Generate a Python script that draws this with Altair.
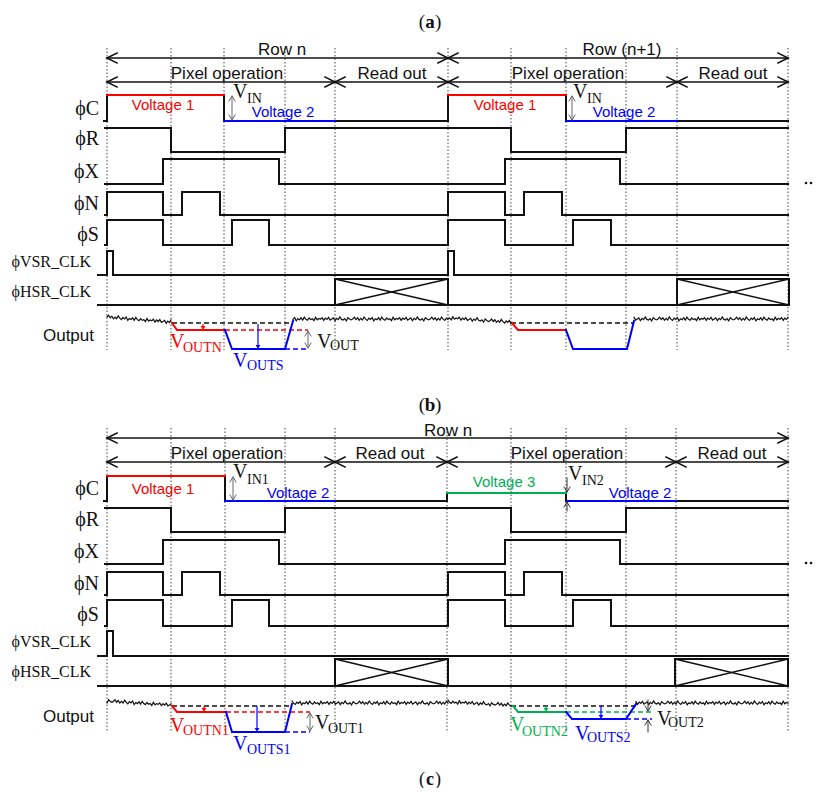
import altair as alt
import pandas as pd

RED, BLUE, GREEN, INK, GREY = "#ff0000", "#0000ff", "#00b050", "#111111", "#666666"

# ---------------- timing data (x = time position, y = level position) ----------------
guides_top = [107, 171, 224, 285, 335, 448, 511, 566, 626, 677, 788]
guides_bot = [107, 171, 225, 285, 335, 447, 511, 566, 626, 676, 788]
guide_span_top = [48, 350]
guide_span_bot = [428, 732]
signal_end = 788

# (high, low) level of each control signal
levels_top = {"R": (128, 152), "X": (159, 184), "N": (192, 215), "S": (220, 245), "VSR": (251, 275)}
levels_bot = {"R": (508, 532), "X": (540, 564), "N": (572, 595), "S": (600, 626), "VSR": (631, 656)}

# switching instants (t, state)
R_steps = [(105, 1), (171, 0), (285, 1), (511, 0), (626, 1)]
X_steps = [(105, 0), (163, 1), (279, 0), (505, 1), (620, 0)]
N_steps = [(105, 0), (107, 1), (163, 0), (182, 1), (220, 0), (448, 1), (505, 0), (524, 1), (562, 0)]
S_steps = [(105, 0), (107, 1), (163, 0), (232, 1), (269, 0), (448, 1), (505, 0), (573, 1), (611, 0)]
VSR_top_steps = [(98, 0), (107, 1), (113, 0), (448, 1), (454, 0)]
VSR_bot_steps = [(98, 0), (107, 1), (113, 0)]

# phi C: (t, level)
C_top = [(104, 121), (107, 95), (224, 121), (448, 95), (566, 121)]
C_bot = [(104, 501), (107, 476), (225, 501), (447, 493), (566, 501)]
C_top_col = [(107, 224, 95, RED), (224, 335, 121, BLUE), (448, 566, 95, RED), (566, 677, 121, BLUE)]
C_bot_col = [(107, 225, 476, RED), (225, 335, 501, BLUE), (447, 566, 493, GREEN), (566, 676, 501, BLUE)]

# phi HSR_CLK
HSR_base = [(98, 305), (98, 686)]
HSR_boxes_top = [(335, 448, 279, 305), (677, 789, 279, 305)]
HSR_boxes_bot = [(335, 448, 659, 686), (675, 788, 659, 686)]

# output traces
out_traces = [
    ([(172, 323), (177, 330), (225, 330)], RED),
    ([(225, 330), (232, 349), (285, 349), (293, 321)], BLUE),
    ([(512, 323), (518, 330), (566, 330)], RED),
    ([(566, 330), (573, 349), (627, 349), (634, 321)], BLUE),
    ([(172, 706), (177, 712), (226, 712)], RED),
    ([(226, 712), (232, 732), (285, 732), (292, 704)], BLUE),
    ([(513, 706), (518, 712), (566, 712)], GREEN),
    ([(566, 712), (572, 719), (626, 719), (636, 704)], BLUE),
]
# noise of the output signal (hand read jitter, px)
noise = [0, -1.8, 0.6, -1.2, 1.3, -0.6, 1.0, -2.0, 0.2, 1.5, -0.8, 0.5, -1.5, 1.8, -0.3, 0.7,
         -1.2, 1.1, -1.9, 0.3, 1.2, -1.0, 0.6, -0.2, 1.6, -1.7, 0.8, -0.5, 0.2, -1.4, 1.3, -0.9,
         0.5, -1.6, 1.1, 0.1, -1.1, 1.7, -0.6, 0.7, -2.1, 0.4, 1.0, -0.4, 1.9, -1.3, 0.0, 0.9]
noise_segs = [(107, 171, 317, 322), (293, 448, 319, 319), (448, 511, 318, 322), (634, 788, 319, 319),
              (107, 171, 701, 705), (292, 448, 703, 703), (448, 511, 702, 705), (636, 788, 703, 703)]

# dashed reference levels (t0, t1, y, colour)
dashes = [(172, 292, 323, INK), (511, 634, 323, INK), (225, 308, 330, RED), (285, 308, 349, BLUE),
          (172, 292, 706, INK), (511, 636, 706, INK), (226, 310, 712, RED), (285, 310, 732, BLUE),
          (566, 652, 712, GREEN), (626, 652, 719, BLUE)]

# small filled arrows (x, from, to, colour)
small_arrows = [(203, 324, 330, RED), (258, 324, 349, BLUE), (204, 706, 712, RED), (257, 706, 732, BLUE),
                (546, 706, 712, GREEN), (601, 706, 719, BLUE)]
# thin double arrows (x, y0, y1)
double_arrows = [(232, 96, 120), (572, 96, 120), (233, 477, 500), (308, 331, 348), (310, 713, 731)]
# thin single arrows (x, tail, tip)
single_arrows = [(567, 478, 492), (567, 511, 502), (648, 700, 711), (648, 732, 720)]

# span arrows (t0, t1, y)
span_arrows = [(107, 448, 58), (448, 788, 58), (107, 335, 82), (335, 448, 82), (448, 677, 82), (677, 788, 82),
               (107, 788, 438), (107, 335, 462), (335, 447, 462), (447, 676, 462), (676, 788, 462)]

# texts
head_texts = [("Row n", 282, 55), ("Row (n+1)", 622, 55), ("Pixel operation", 227, 79), ("Read out", 392, 79),
              ("Pixel operation", 568, 79), ("Read out", 733, 79),
              ("Row n", 448, 436), ("Pixel operation", 227, 459), ("Read out", 390, 459),
              ("Pixel operation", 567, 459), ("Read out", 732, 459)]
volt_texts = [("Voltage 1", 163, 110, RED), ("Voltage 2", 283, 117, BLUE), ("Voltage 1", 505, 110, RED),
              ("Voltage 2", 624, 117, BLUE), ("Voltage 1", 163, 494, RED), ("Voltage 2", 298, 498, BLUE),
              ("Voltage 3", 504, 487, GREEN), ("Voltage 2", 640, 498, BLUE)]
sig_labels = [("ϕC", 99, 115, 20), ("ϕR", 99, 145, 20), ("ϕX", 99, 178, 20), ("ϕN", 99, 210, 20),
              ("ϕS", 99, 241, 20), ("ϕVSR_CLK", 91, 267, 16), ("ϕHSR_CLK", 91, 297, 16),
              ("ϕC", 99, 495, 20), ("ϕR", 99, 526, 20), ("ϕX", 99, 558, 20), ("ϕN", 99, 590, 20),
              ("ϕS", 99, 621, 20), ("ϕVSR_CLK", 91, 647, 16), ("ϕHSR_CLK", 91, 677, 16)]
output_labels = [("Output", 94, 341), ("Output", 94, 722)]
# symbol texts: (V x, V baseline, subscript, sub x, sub baseline, colour)
sym_texts = [(233, 98, "IN", 247, 103, INK), (573, 98, "IN", 587, 103, INK),
             (233, 478, "IN1", 247, 484, INK), (568, 480, "IN2", 582, 485, INK),
             (170, 348, "OUTN", 183, 352, RED), (233, 367, "OUTS", 247, 370, BLUE), (317, 348, "OUT", 330, 350, INK),
             (170, 732, "OUTN1", 183, 735, RED), (233, 750, "OUTS1", 247, 754, BLUE), (315, 729, "OUT1", 328, 733, INK),
             (510, 731, "OUTN2", 522, 736, GREEN), (575, 740, "OUTS2", 587, 742, BLUE), (657, 725, "OUT2", 668, 727, INK)]
captions = [("a", 430, 28, 19), ("b", 430, 411, 19), ("c", 430, 785, 18)]
more_dots = [(806, 183), (811, 183), (806, 563), (811, 563)]

# ---------------- build tables ----------------
lines, rules_solid, rules_dash, rules_dot, heads = [], [], [], [], []
gid = [0]


def add_line(pts, c=INK, w=2.0):
    gid[0] += 1
    for i, (x, y) in enumerate(pts):
        lines.append(dict(x=x, y=y, g=gid[0], o=i, c=c, w=w))


def steps_pts(steps, hi=None, lo=None, end=signal_end):
    pts, prev = [], None
    for t, s in steps:
        y = s if hi is None else (hi if s else lo)
        if prev is not None:
            pts.append((t, prev))
        pts.append((t, y))
        prev = y
    pts.append((end, prev))
    return pts


for lv, vsr in ((levels_top, VSR_top_steps), (levels_bot, VSR_bot_steps)):
    for name, st in (("R", R_steps), ("X", X_steps), ("N", N_steps), ("S", S_steps), ("VSR", vsr)):
        add_line(steps_pts(st, *lv[name]))
add_line(steps_pts(C_top))
add_line(steps_pts(C_bot))
for t0, t1, y, c in C_top_col + C_bot_col:
    add_line([(t0, y), (t1, y)], c)
for x0, y in HSR_base:
    add_line([(x0, y), (signal_end, y)])
for t0, t1, y0, y1 in HSR_boxes_top + HSR_boxes_bot:
    add_line([(t0, y1), (t0, y0), (t1, y0), (t1, y1)])
    rules_solid.append(dict(x=t0, y=y0, x2=t1, y2=y1, c=INK, w=1.6))
    rules_solid.append(dict(x=t0, y=y1, x2=t1, y2=y0, c=INK, w=1.6))
for pts, c in out_traces:
    add_line(pts, c)
k = 0
for t0, t1, y0, y1 in noise_segs:
    n = int((t1 - t0) / 1.6)
    pts = []
    for i in range(n + 1):
        pts.append((t0 + (t1 - t0) * i / n, y0 + (y1 - y0) * i / n + noise[(k + i) % len(noise)]))
    k += 11
    add_line(pts, "#111111", 1.2)

for t0, t1, y, c in dashes:
    rules_dash.append(dict(x=t0, y=y, x2=t1, y2=y, c=c, w=1.6))
for gl, (ya, yb) in ((guides_top, guide_span_top), (guides_bot, guide_span_bot)):
    for t in gl:
        rules_dot.append(dict(x=t, y=ya, x2=t, y2=yb, c="#444444", w=1.0))

for x, y0, y1, c in small_arrows:
    rules_solid.append(dict(x=x, y=y0, x2=x, y2=y1 - 2, c=c, w=1.2))
    heads.append(dict(x=x, y=y1 - 2, c=c, s="triangle-down"))


def open_head(tx, ty, dx, dy, L, h, c=GREY, w=1.0):
    px, py = -dy, dx
    add_line([(tx - dx * L + px * h, ty - dy * L + py * h), (tx, ty),
              (tx - dx * L - px * h, ty - dy * L - py * h)], c, w)


for x, y0, y1 in double_arrows:
    add_line([(x, y0), (x, y1)], GREY, 1.0)
    open_head(x, y0, 0, -1, 5, 3)
    open_head(x, y1, 0, 1, 5, 3)
for x, y0, y1 in single_arrows:
    add_line([(x, y0), (x, y1)], "#333333", 1.0)
    open_head(x, y1, 0, 1 if y1 > y0 else -1, 5, 3, "#333333")
for t0, t1, y in span_arrows:
    add_line([(t0, y), (t1, y)], INK, 1.6)
    open_head(t0, y, -1, 0, 10, 5, INK, 1.6)
    open_head(t1, y, 1, 0, 10, 5, INK, 1.6)

X = alt.X("x:Q", scale=alt.Scale(domain=[8, 814], nice=False, zero=False), axis=None)
Y = alt.Y("y:Q", scale=alt.Scale(domain=[8, 788], nice=False, zero=False, reverse=True), axis=None)
COL = alt.Color("c:N", scale=None)
SW = alt.StrokeWidth("w:Q", scale=None)


def rule_layer(rows, dash=None):
    kw = dict(strokeCap="butt")
    if dash:
        kw["strokeDash"] = dash
    return alt.Chart(pd.DataFrame(rows)).mark_rule(**kw).encode(
        x=X, y=Y, x2="x2:Q", y2="y2:Q", color=COL, strokeWidth=SW)


line_layer = alt.Chart(pd.DataFrame(lines)).mark_line(strokeJoin="miter", strokeCap="square").encode(
    x=X, y=Y, detail="g:N", order="o:Q", color=COL, strokeWidth=SW)

head_layer = alt.Chart(pd.DataFrame(heads)).mark_point(filled=True, size=22, opacity=1).encode(
    x=X, y=Y, color=COL, shape=alt.Shape("s:N", scale=None))

dots_layer = alt.Chart(pd.DataFrame(more_dots, columns=["x", "y"])).mark_circle(
    size=7, color=INK, opacity=1).encode(x=X, y=Y)


def text_layer(df, font, align, weight="normal"):
    return alt.Chart(df).mark_text(font=font, align=align, baseline="alphabetic", fontWeight=weight).encode(
        x=X, y=Y, text="t:N", color=COL, size=alt.Size("fs:Q", scale=None))


SANS = "Liberation Sans, Arial, sans-serif"
SERIF = "Liberation Serif, DejaVu Serif, serif"

df_head = pd.DataFrame([dict(t=t, x=x, y=y, c=INK, fs=17) for t, x, y in head_texts])
df_volt = pd.DataFrame([dict(t=t, x=x, y=y, c=c, fs=15) for t, x, y, c in volt_texts])
df_sig = pd.DataFrame([dict(t=t, x=x, y=y, c=INK, fs=fs) for t, x, y, fs in sig_labels])
df_outl = pd.DataFrame([dict(t=t, x=x, y=y, c=INK, fs=17) for t, x, y in output_labels])
sym_rows = []
for vx, vy, sub, sx, sy, c in sym_texts:
    sym_rows.append(dict(t="V", x=vx, y=vy, c=c, fs=20))
    sym_rows.append(dict(t=sub, x=sx, y=sy, c=c, fs=14))
df_sym = pd.DataFrame(sym_rows)
df_cap_l = pd.DataFrame([dict(t=l, x=x, y=y, c=INK, fs=fs) for l, x, y, fs in captions])
df_cap_p1 = pd.DataFrame([dict(t="(", x=x - 5, y=y, c=INK, fs=fs) for l, x, y, fs in captions])
df_cap_p2 = pd.DataFrame([dict(t=")", x=x + 5, y=y, c=INK, fs=fs) for l, x, y, fs in captions])

chart = alt.layer(
    rule_layer(rules_dot, [1.5, 2]),
    rule_layer(rules_dash, [5, 3]),
    rule_layer(rules_solid),
    line_layer,
    head_layer,
    dots_layer,
    text_layer(df_head, SANS, "center"),
    text_layer(df_volt, SANS, "center"),
    text_layer(df_sig, SERIF, "right"),
    text_layer(df_outl, SANS, "right"),
    text_layer(df_sym, SERIF, "left"),
    text_layer(df_cap_l, SERIF, "center", "bold"),
    text_layer(df_cap_p1, SERIF, "right"),
    text_layer(df_cap_p2, SERIF, "left"),
).properties(
    width=806, height=780, padding=0, autosize=alt.AutoSizeParams(type="none"), background="white"
).configure_view(stroke=None)

chart.save("out.html", embed_options={"renderer": "svg", "actions": False})
